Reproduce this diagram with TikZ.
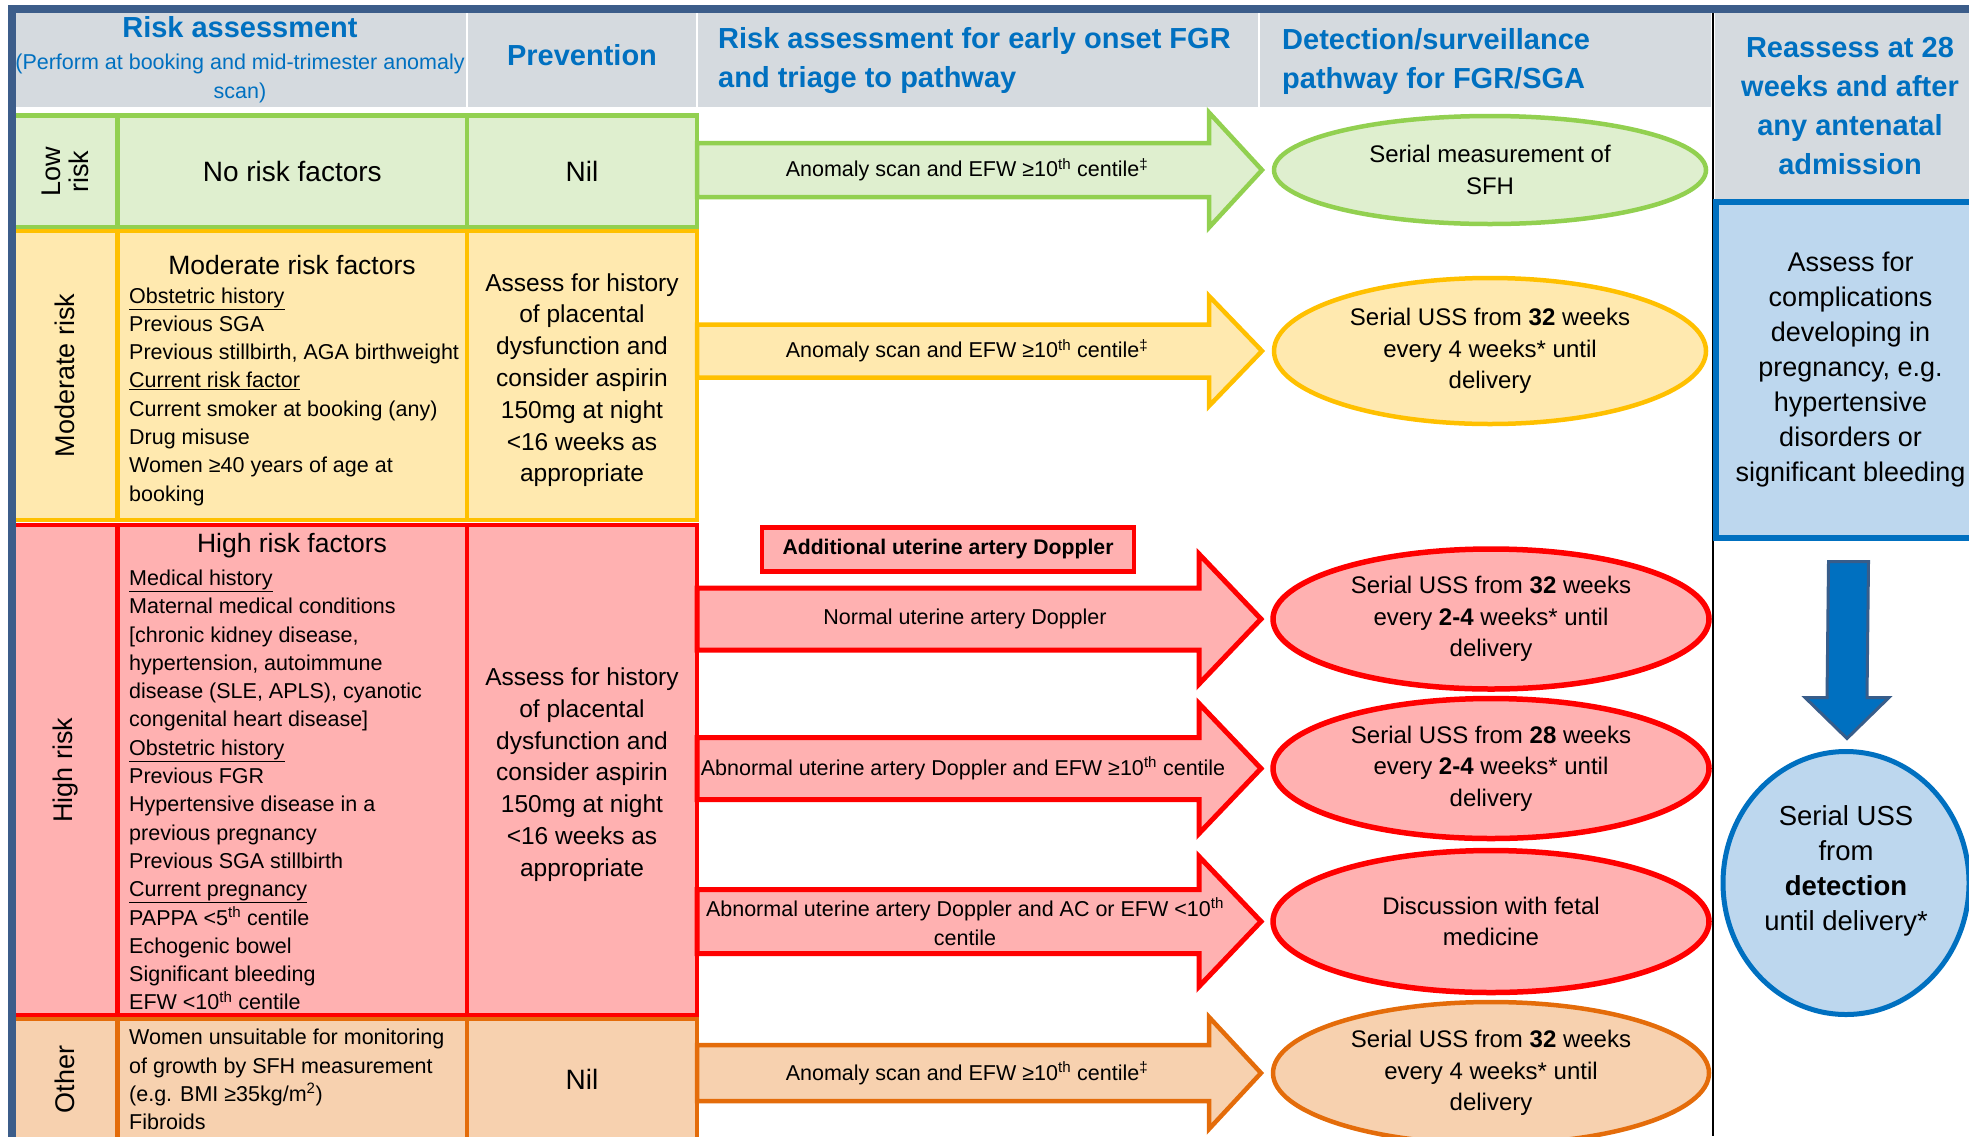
\documentclass[tikz,border=0pt]{standalone}
\usepackage{fontspec}
\setmainfont{Liberation Sans}
\usepackage{tikz}
\usetikzlibrary{positioning,shapes.geometric,calc}

% colours
\definecolor{framecol}{HTML}{3C5D8A}
\definecolor{hdrgray}{HTML}{D5DADF}
\definecolor{hdrblue}{HTML}{0070C0}
\definecolor{lowline}{HTML}{92D050}
\definecolor{lowfill}{HTML}{DFEFCF}
\definecolor{modline}{HTML}{FFC000}
\definecolor{modfill}{HTML}{FFE9AF}
\definecolor{highline}{HTML}{FF0000}
\definecolor{highfill}{HTML}{FFB1B1}
\definecolor{otherline}{HTML}{E46C0A}
\definecolor{otherfill}{HTML}{F7D1AF}
\definecolor{assessfill}{HTML}{BDD7EE}
\definecolor{downline}{HTML}{385D8A}

\tikzset{
    cell/.style={draw, rectangle, inner sep=0pt, outer sep=0pt, line width=4.5pt, anchor=north west, align=center},
    hdrcell/.style={fill=hdrgray, rectangle, inner sep=0pt, outer sep=0pt, anchor=north west},
    hdrtext/.style={text=hdrblue, inner sep=0pt, font=\bfseries\fontsize{29}{39}\selectfont},
    factors/.style={anchor=west, align=left, inner sep=0pt, font=\fontsize{21.5}{28.3}\selectfont},
    prevtext/.style={font=\fontsize{24.5}{31.8}\selectfont},
    bigtext/.style={font=\fontsize{28}{32}\selectfont},
    risklabel/.style={rotate=90, align=center, inner sep=0pt, font=\fontsize{27}{27.6}\selectfont},
    pathway/.style={draw, ellipse, inner sep=0pt, outer sep=0pt, line width=4.5pt, align=center, font=\fontsize{24}{31.5}\selectfont},
    scantext/.style={inner sep=0pt, align=center, font=\fontsize{21.5}{29}\selectfont},
    blockarrow/.style={line width=4.5pt, line join=miter}
}

% block arrow: style, tail, tip, shaft half height, head half height, head length
\newcommand{\blockarrow}[6]{%
    \draw[#1] ($(#2)+(0,-#4)$) -- ($(#3)+(-#6,-#4)$) -- ($(#3)+(-#6,-#5)$) -- (#3)
        -- ($(#3)+(-#6,#5)$) -- ($(#3)+(-#6,#4)$) -- ($(#2)+(0,#4)$) -- cycle;
}

\begin{document}
\begin{tikzpicture}[x=1pt, y=-1pt]
    \useasboundingbox (0,0) rectangle (1969,1136);

    %% Header row
    \node[hdrcell, minimum width=450.5pt, minimum height=94pt] (hdrrisk) at (15.5,13) {};
    \node[hdrcell, minimum width=228pt, minimum height=94pt] (hdrprev) at (468,13) {};
    \node[hdrcell, minimum width=560pt, minimum height=94pt] (hdrtriage) at (698,13) {};
    \node[hdrcell, minimum width=451pt, minimum height=94pt] (hdrdetect) at (1260,13) {};
    \node[hdrcell, minimum width=260pt, minimum height=188pt] (hdrreassess) at (1715,13) {};

    \node[hdrtext] (risktitle) at (240,27.6) {Risk assessment};
    \node[text=hdrblue, inner sep=0pt, align=center, font=\fontsize{21.5}{29}\selectfont] (risksub) at (240,78.5) {(Perform at booking and mid-trimester anomaly\\scan)};
    \node[hdrtext] (prevtitle) at (582,55) {Prevention};
    \node[hdrtext, anchor=west, align=left] (triagetitle) at (718,61) {Risk assessment for early onset FGR\\and triage to pathway};
    \node[hdrtext, anchor=west, align=left] (detecttitle) at (1282,61) {Detection/surveillance\\pathway for FGR/SGA};
    \node[hdrtext, align=center] (reassesstitle) at (1850,106.5) {Reassess at 28\\weeks and after\\any antenatal\\admission};

    %% Low risk row
    \node[cell, draw=lowline, fill=lowfill, minimum width=104.5pt, minimum height=112pt] (lowlabel) at (13,115.5) {};
    \node[cell, draw=lowline, fill=lowfill, minimum width=349.5pt, minimum height=112pt, bigtext] (lowfactors) at (117.5,115.5) {No risk factors};
    \node[cell, draw=lowline, fill=lowfill, minimum width=230pt, minimum height=112pt, bigtext] (lowprev) at (467,115.5) {Nil};
    \node[risklabel] (lowname) at (lowlabel.center) {Low\\risk};

    %% Moderate risk row
    \node[cell, draw=modline, fill=modfill, minimum width=104.5pt, minimum height=289pt] (modlabel) at (13,231) {};
    \node[cell, draw=modline, fill=modfill, minimum width=349.5pt, minimum height=289pt] (modfactors) at (117.5,231) {};
    \node[cell, draw=modline, fill=modfill, minimum width=230pt, minimum height=289pt, prevtext] (modprev) at (467,231) {\rule{0pt}{27pt}Assess for history\\of placental\\dysfunction and\\consider aspirin\\150mg at night\\<16 weeks as\\appropriate};
    \node[risklabel] (modname) at (modlabel.center) {Moderate risk};
    \node[inner sep=0pt, font=\fontsize{26.5}{30}\selectfont] (modtitle) at (292,265) {Moderate risk factors};
    \node[factors] (modlist) at (129,396.5) {\underline{Obstetric history}\\Previous SGA\\Previous stillbirth, AGA birthweight\\\underline{Current risk factor}\\Current smoker at booking (any)\\Drug misuse\\Women ≥40 years of age at\\booking};

    %% High risk row
    \node[cell, draw=highline, fill=highfill, minimum width=104.5pt, minimum height=490pt] (highlabel) at (13,525) {};
    \node[cell, draw=highline, fill=highfill, minimum width=349.5pt, minimum height=490pt] (highfactors) at (117.5,525) {};
    \node[cell, draw=highline, fill=highfill, minimum width=230pt, minimum height=490pt, prevtext] (highprev) at (467,525) {\rule{0pt}{27pt}Assess for history\\of placental\\dysfunction and\\consider aspirin\\150mg at night\\<16 weeks as\\appropriate};
    \node[risklabel] (highname) at (highlabel.center) {High risk};
    \node[inner sep=0pt, font=\fontsize{26.5}{30}\selectfont] (hightitle) at (292,546) {High risk factors};
    \node[factors] (highlist) at (129,790) {\underline{Medical history}\\Maternal medical conditions\\{[}chronic kidney disease,\\hypertension, autoimmune\\disease (SLE, APLS), cyanotic\\congenital heart disease]\\\underline{Obstetric history}\\Previous FGR\\Hypertensive disease in a\\previous pregnancy\\Previous SGA stillbirth\\\underline{Current pregnancy}\\PAPPA <5\textsuperscript{th} centile\\Echogenic bowel\\Significant bleeding\\EFW <10\textsuperscript{th} centile};

    %% Other row
    \node[cell, draw=otherline, fill=otherfill, minimum width=104.5pt, minimum height=121pt] (otherlabel) at (13,1019) {};
    \node[cell, draw=otherline, fill=otherfill, minimum width=349.5pt, minimum height=121pt] (otherfactors) at (117.5,1019) {};
    \node[cell, draw=otherline, fill=otherfill, minimum width=230pt, minimum height=121pt, bigtext] (otherprev) at (467,1019) {Nil};
    \node[risklabel] (othername) at (otherlabel.center) {Other};
    \node[factors] (otherlist) at (129,1079.5) {Women unsuitable for monitoring\\of growth by SFH measurement\\(e.g. BMI ≥35kg/m\textsuperscript{2})\\Fibroids};

    %% Detection / surveillance pathways
    \node[pathway, draw=lowline, fill=lowfill, minimum width=432pt, minimum height=108pt] (lowpath) at (1490,170) {Serial measurement of\\SFH};
    \node[pathway, draw=modline, fill=modfill, minimum width=432pt, minimum height=146pt] (modpath) at (1490,351) {Serial USS from \textbf{32} weeks\\every 4 weeks* until\\delivery};
    \node[pathway, draw=highline, fill=highfill, line width=5.5pt, minimum width=436pt, minimum height=140pt] (highpatha) at (1491,619) {Serial USS from \textbf{32} weeks\\every \textbf{2-4} weeks* until\\delivery};
    \node[pathway, draw=highline, fill=highfill, line width=5.5pt, minimum width=436pt, minimum height=140pt] (highpathb) at (1491,768.5) {Serial USS from \textbf{28} weeks\\every \textbf{2-4} weeks* until\\delivery};
    \node[pathway, draw=highline, fill=highfill, line width=5.5pt, minimum width=436pt, minimum height=142pt] (highpathc) at (1491,921.5) {Discussion with fetal\\medicine};
    \node[pathway, draw=otherline, fill=otherfill, minimum width=436pt, minimum height=142pt] (otherpath) at (1491,1073) {Serial USS from \textbf{32} weeks\\every 4 weeks* until\\delivery};

    %% Triage arrows from prevention column to pathways
    \coordinate (lowtail) at (lowprev.east |- lowpath.west);
    \coordinate (lowtip) at ($(lowpath.west)+(-12,0)$);
    \coordinate (modtail) at (modprev.east |- modpath.west);
    \coordinate (modtip) at ($(modpath.west)+(-12,0)$);
    \coordinate (highatail) at (highprev.east |- highpatha.west);
    \coordinate (highatip) at ($(highpatha.west)+(-12,0)$);
    \coordinate (highbtail) at (highprev.east |- highpathb.west);
    \coordinate (highbtip) at ($(highpathb.west)+(-12,0)$);
    \coordinate (highctail) at (highprev.east |- highpathc.west);
    \coordinate (highctip) at ($(highpathc.west)+(-12,0)$);
    \coordinate (othertail) at (otherprev.east |- otherpath.west);
    \coordinate (othertip) at ($(otherpath.west)+(-12,0)$);

    \blockarrow{draw=lowline, fill=lowfill, blockarrow}{lowtail}{lowtip}{27}{57.5}{53}
    \blockarrow{draw=modline, fill=modfill, blockarrow}{modtail}{modtip}{26.5}{55}{53}
    \blockarrow{draw=highline, fill=highfill, blockarrow, line width=5pt}{highatail}{highatip}{31}{65}{62}
    \blockarrow{draw=highline, fill=highfill, blockarrow, line width=5pt}{highbtail}{highbtip}{31}{65}{62}
    \blockarrow{draw=highline, fill=highfill, blockarrow, line width=5pt}{highctail}{highctip}{32}{65}{62}
    \blockarrow{draw=otherline, fill=otherfill, blockarrow}{othertail}{othertip}{28}{56}{52}

    \node[scantext] (lowscan) at ($(lowtail)+(270,0)$) {Anomaly scan and EFW ≥10\textsuperscript{th} centile\textsuperscript{‡}};
    \node[scantext] (modscan) at ($(modtail)+(270,0)$) {Anomaly scan and EFW ≥10\textsuperscript{th} centile\textsuperscript{‡}};
    \node[scantext] (normaldop) at ($(highatail)+(268,0)$) {Normal uterine artery Doppler};
    \node[scantext] (abndop) at ($(highbtail)+(266,0)$) {Abnormal uterine artery Doppler and EFW ≥10\textsuperscript{th} centile};
    \node[scantext] (abnsmall) at ($(highctail)+(268,0)$) {Abnormal uterine artery Doppler and AC or EFW <10\textsuperscript{th}\\centile};
    \node[scantext] (otherscan) at ($(othertail)+(270,0)$) {Anomaly scan and EFW ≥10\textsuperscript{th} centile\textsuperscript{‡}};

    % extra Doppler test for high risk
    \node[draw=highline, fill=highfill, line width=4.5pt, minimum width=372pt, minimum height=44pt, inner sep=0pt, font=\bfseries\fontsize{21.2}{24}\selectfont] (dopbox) at (948,549.4) {Additional uterine artery Doppler};

    %% Reassess column
    \draw[line width=1.8pt] (1713,13) -- (1713,1136);
    \node[cell, draw=hdrblue, fill=assessfill, line width=6pt, minimum width=269pt, minimum height=336.5pt, font=\fontsize{27}{35}\selectfont] (assessbox) at (1716,201.5) {Assess for\\complications\\developing in\\pregnancy, e.g.\\hypertensive\\disorders or\\significant bleeding};
    \node[pathway, draw=hdrblue, fill=assessfill, line width=5pt, minimum width=246pt, minimum height=263pt, font=\fontsize{27.5}{35}\selectfont] (detectcircle) at (1846,883) {Serial USS\\from\\\textbf{detection}\\until delivery*\rule[-30pt]{0pt}{0pt}};

    \coordinate (downtail) at ($(assessbox.south)+(-2,23.5)$);
    \coordinate (downtip) at ($(detectcircle.north)+(1,-13)$);
    \draw[fill=hdrblue, draw=downline, line width=3pt] ($(downtail)+(-20,0)$) -- ($(downtail)+(20,0)$) -- ($(downtip)+(20,-41)$) -- ($(downtip)+(42,-41)$) -- (downtip) -- ($(downtip)+(-42,-41)$) -- ($(downtip)+(-20,-41)$) -- cycle;

    %% Outer frame
    \draw[framecol, line width=8pt] (11.6,1140) -- (11.6,9.2) -- (1975,9.2);
\end{tikzpicture}
\end{document}
